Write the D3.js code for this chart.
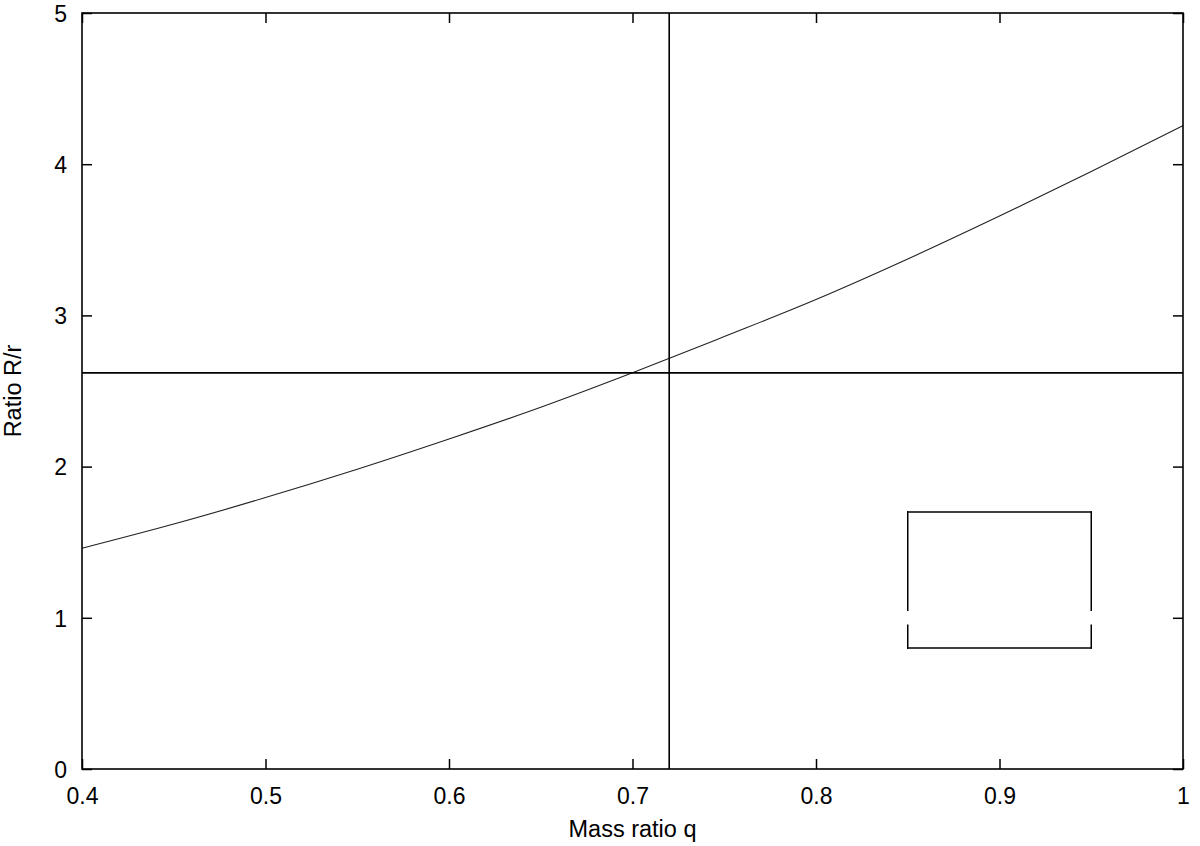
<!DOCTYPE html>
<html><head><meta charset="utf-8">
<script src="https://cdn.jsdelivr.net/npm/d3@7"></script>
<style>body{margin:0;background:#fff}svg{display:block}text{font-family:"Liberation Sans",Arial,sans-serif;fill:#000}</style>
</head><body>
<svg id="c" width="1200" height="846"></svg>
<script>
const qValues = [0.40,0.45,0.50,0.55,0.60,0.65,0.70,0.75,0.80,0.85,0.90,0.95,1.00];
const ratioValues = [1.46,1.62,1.795,1.982,2.182,2.392,2.62,2.86,3.105,3.373,3.657,3.951,4.255];
const xTicks = [0.4,0.5,0.6,0.7,0.8,0.9,1];
const xTickLabels = ["0.4","0.5","0.6","0.7","0.8","0.9","1"];
const yTicks = [0,1,2,3,4,5];
const hLineValue = 2.62;
const vLineValue = 0.72;
const boxX = [0.85,0.95];
const boxY = [0.8,1.7];
const boxGap = [0.95,1.05];

const svg = d3.select("#c");
const L=82, R=1183, T=13, B=769;
const x = d3.scaleLinear().domain([0.4,1]).range([L,R]);
const y = d3.scaleLinear().domain([0,5]).range([B,T]);

// curve
const line = d3.line().x((d,i)=>x(qValues[i])).y(d=>y(d)).curve(d3.curveMonotoneX);
svg.append("path").attr("d",line(ratioValues)).attr("fill","none").attr("stroke","#222").attr("stroke-width",1.1);

// reference lines
svg.append("line").attr("x1",x(0.4)).attr("x2",x(1)).attr("y1",y(hLineValue)).attr("y2",y(hLineValue)).attr("stroke","#000").attr("stroke-width",1.6);
svg.append("line").attr("x1",x(vLineValue)).attr("x2",x(vLineValue)).attr("y1",y(0)).attr("y2",y(5)).attr("stroke","#000").attr("stroke-width",1.6);

// box
const g = svg.append("g").attr("stroke","#000").attr("stroke-width",1.5).attr("fill","none");
const segs = [
  [boxX[0],boxY[1],boxX[1],boxY[1]],
  [boxX[0],boxY[0],boxX[1],boxY[0]],
  [boxX[0],boxY[0],boxX[0],boxGap[0]],
  [boxX[0],boxGap[1],boxX[0],boxY[1]],
  [boxX[1],boxY[0],boxX[1],boxGap[0]],
  [boxX[1],boxGap[1],boxX[1],boxY[1]]
];
segs.forEach(s=>g.append("line").attr("x1",x(s[0])).attr("y1",y(s[1])).attr("x2",x(s[2])).attr("y2",y(s[3])).attr("stroke-linecap","square"));

// axes
const fs = 23;
const xb = svg.append("g").attr("transform",`translate(0,${B})`)
  .call(d3.axisBottom(x).tickValues(xTicks).tickFormat((d,i)=>xTickLabels[i]).tickSizeInner(-10).tickSizeOuter(0).tickPadding(19));
const xt = svg.append("g").attr("transform",`translate(0,${T})`)
  .call(d3.axisTop(x).tickValues(xTicks).tickFormat("").tickSizeInner(-10).tickSizeOuter(0));
const yl = svg.append("g").attr("transform",`translate(${L},0)`)
  .call(d3.axisLeft(y).tickValues(yTicks).tickFormat(d3.format("d")).tickSizeInner(-10).tickSizeOuter(0).tickPadding(15));
const yr = svg.append("g").attr("transform",`translate(${R},0)`)
  .call(d3.axisRight(y).tickValues(yTicks).tickFormat("").tickSizeInner(-10).tickSizeOuter(0));
[xb,xt,yl,yr].forEach(a=>{
  a.select(".domain").remove();
  a.selectAll(".tick line").attr("stroke","#000").attr("stroke-width",1.5);
  a.selectAll("text").attr("font-size",fs).attr("font-family","Liberation Sans, Arial, sans-serif").attr("fill","#000");
});
xb.selectAll("text").attr("dy","0.71em");
yl.selectAll("text").attr("dy","0.36em");

svg.append("rect").attr("x",L).attr("y",T).attr("width",R-L).attr("height",B-T).attr("fill","none").attr("stroke","#000").attr("stroke-width",1.6);

svg.append("text").attr("x",(L+R)/2).attr("y",837).attr("text-anchor","middle").attr("font-size",23.5).text("Mass ratio q");
svg.append("text").attr("transform",`translate(21,${(T+B)/2}) rotate(-90)`).attr("text-anchor","middle").attr("font-size",23.5).text("Ratio R/r");
</script>
</body></html>
